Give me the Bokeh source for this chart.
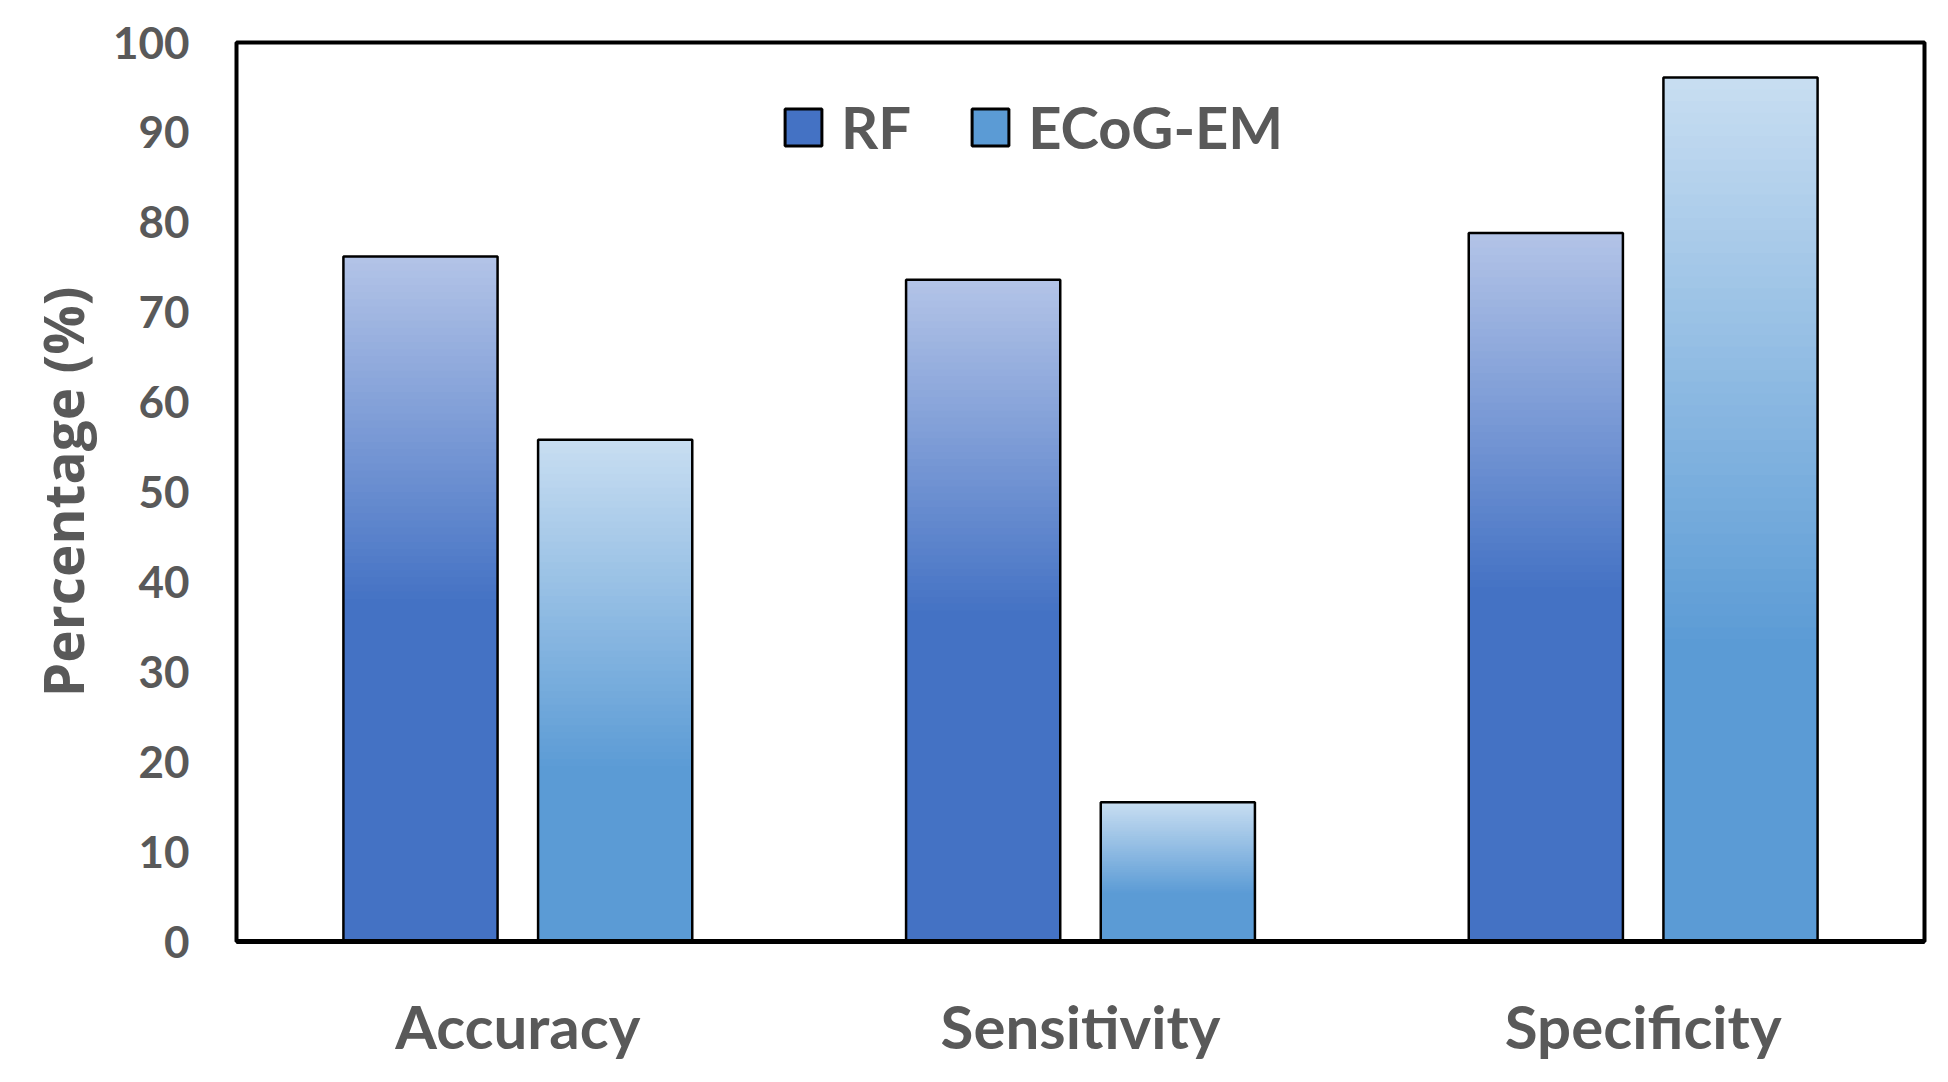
from bokeh.plotting import figure
from bokeh.models import FactorRange, Range1d, FixedTicker, ColumnDataSource, Legend, LegendItem
from bokeh.transform import dodge
from bokeh.embed import file_html
from bokeh.resources import INLINE

# ---- data ----
categories = ["Accuracy", "Sensitivity", "Specificity"]
series_names = ["RF", "ECoG-EM"]
rf_values = [76.2, 73.6, 78.8]
ecog_values = [55.8, 15.5, 96.1]
y_ticks = [0, 10, 20, 30, 40, 50, 60, 70, 80, 90, 100]

# ---- style ----
RF_DARK, RF_LIGHT = (68, 114, 196), (178, 195, 231)
EC_DARK, EC_LIGHT = (91, 155, 213), (199, 221, 241)
TEXT = "#595959"
BAR_W = 0.274
OFF = 0.173


def hexc(c):
    return "#%02x%02x%02x" % tuple(int(round(v)) for v in c)


def mix(a, b, t):
    return tuple(a[i] + (b[i] - a[i]) * t for i in range(3))


def gradient_source(vals, light, dark, solid_frac, n=48):
    cats, tops, cols = [], [], []
    for cat, v in zip(categories, vals):
        g_end = v * solid_frac
        for k in range(n):
            t = k / n
            cats.append(cat)
            tops.append(v - (v - g_end) * t)
            cols.append(hexc(mix(light, dark, t)))
        cats.append(cat)
        tops.append(g_end)
        cols.append(hexc(dark))
    return ColumnDataSource(dict(cat=cats, top=tops, color=cols))


W, H = 1930, 1064
p = figure(width=W, height=H,
           x_range=FactorRange(*categories, range_padding=0),
           y_range=Range1d(0, 100),
           output_backend="svg", toolbar_location=None,
           min_border_left=236, min_border_right=6,
           min_border_top=42, min_border_bottom=119)

# gradient fills
src_rf = gradient_source(rf_values, RF_LIGHT, RF_DARK, 0.5)
src_ec = gradient_source(ecog_values, EC_LIGHT, EC_DARK, 0.35)
p.vbar(x=dodge("cat", -OFF, range=p.x_range), top="top", bottom=0, width=BAR_W,
       fill_color="color", line_color=None, source=src_rf)
p.vbar(x=dodge("cat", OFF, range=p.x_range), top="top", bottom=0, width=BAR_W,
       fill_color="color", line_color=None, source=src_ec)

# outlines
src_vals = ColumnDataSource(dict(cat=categories, rf=rf_values, ec=ecog_values))
p.vbar(x=dodge("cat", -OFF, range=p.x_range), top="rf", bottom=0, width=BAR_W,
       fill_color=None, line_color="black", line_width=2.5, source=src_vals)
p.vbar(x=dodge("cat", OFF, range=p.x_range), top="ec", bottom=0, width=BAR_W,
       fill_color=None, line_color="black", line_width=2.5, source=src_vals)

# legend keys (not drawn in the plot area: NaN height)
key_src = ColumnDataSource(dict(cat=[categories[0]], top=[float("nan")]))
rf_key = p.vbar(x="cat", top="top", width=0.1, fill_color=hexc(RF_DARK),
                line_color="black", line_width=3, source=key_src)
ec_key = p.vbar(x="cat", top="top", width=0.1, fill_color=hexc(EC_DARK),
                line_color="black", line_width=3, source=key_src)

legend = Legend(items=[LegendItem(label=series_names[0], renderers=[rf_key]),
                       LegendItem(label=series_names[1], renderers=[ec_key])],
                orientation="horizontal", location=(544, 780),
                glyph_width=46, glyph_height=46, label_standoff=15, spacing=56,
                padding=0, margin=0, border_line_color=None, background_fill_alpha=0,
                label_text_font="Lato", label_text_font_style="bold",
                label_text_font_size="58px", label_text_color=TEXT)
p.add_layout(legend, "center")

# axes
p.xgrid.visible = False
p.ygrid.visible = False
p.outline_line_color = "black"
p.outline_line_width = 4
p.outline_line_alpha = 1

p.yaxis.ticker = FixedTicker(ticks=y_ticks)
p.yaxis.axis_line_color = None
p.yaxis.major_tick_line_color = None
p.yaxis.minor_tick_line_color = None
p.yaxis.major_label_standoff = 41
p.yaxis.major_label_text_font = "Lato"
p.yaxis.major_label_text_font_style = "bold"
p.yaxis.major_label_text_font_size = "44px"
p.yaxis.major_label_text_color = TEXT
p.yaxis.axis_label = "Percentage (%)"
p.yaxis.axis_label_text_font = "Open Sans"
p.yaxis.axis_label_text_font_style = "bold"
p.yaxis.axis_label_text_font_size = "55px"
p.yaxis.axis_label_text_color = TEXT
p.yaxis.axis_label_standoff = 10

p.xaxis.axis_line_color = "black"
p.xaxis.axis_line_width = 5
p.xaxis.major_tick_line_color = None
p.xaxis.minor_tick_line_color = None
p.xaxis.major_label_standoff = 42
p.xaxis.major_label_text_font = "Lato"
p.xaxis.major_label_text_font_style = "bold"
p.xaxis.major_label_text_font_size = "60px"
p.xaxis.major_label_text_color = TEXT

open("out.html", "w").write(file_html(p, INLINE))
